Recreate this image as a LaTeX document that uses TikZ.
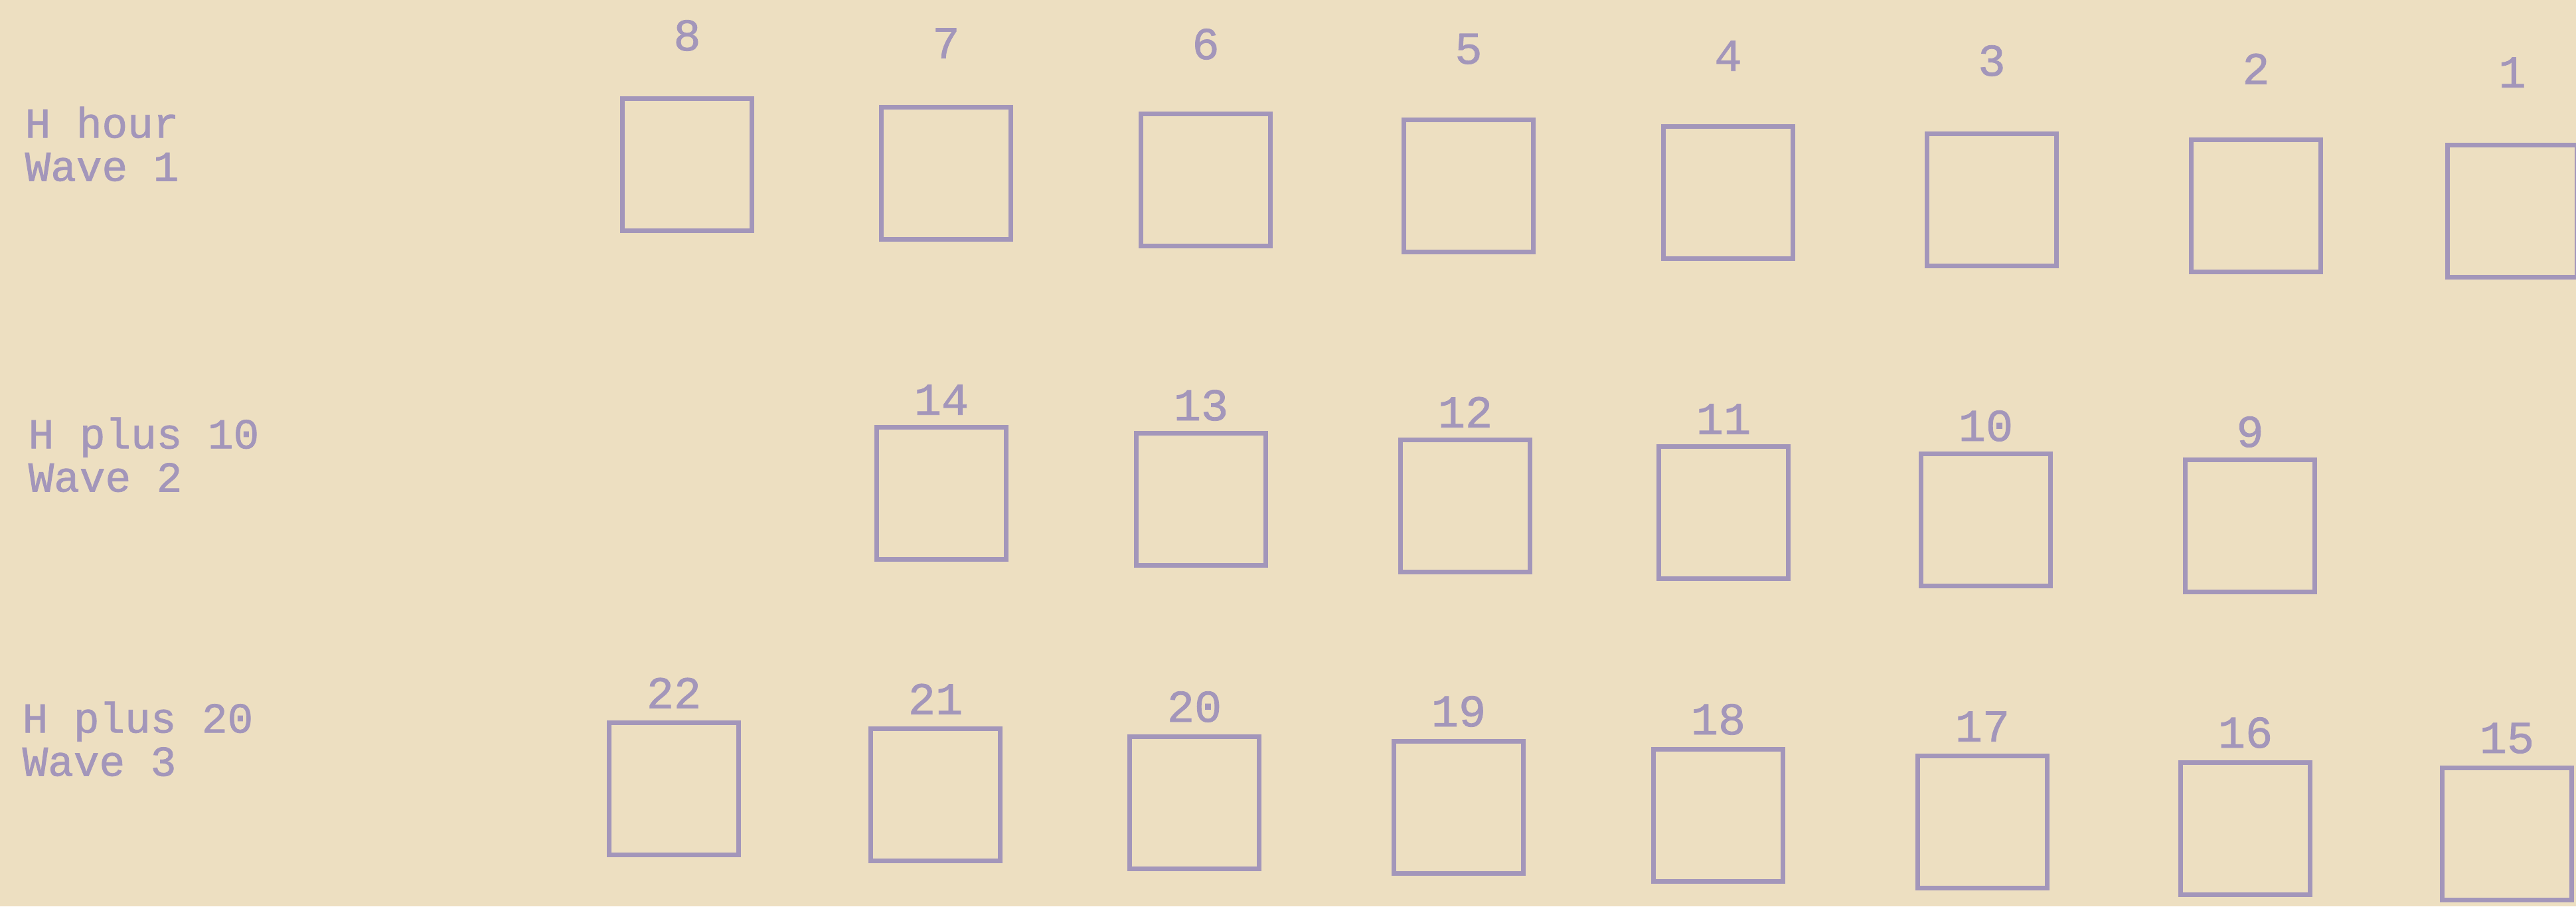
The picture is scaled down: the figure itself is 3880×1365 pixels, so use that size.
\documentclass[tikz,border=0pt]{standalone}
\usepackage{fontspec}
\newfontfamily\typefont[FakeBold=1.2]{Liberation Mono}
\usetikzlibrary{positioning}
\definecolor{paper}{RGB}{237,223,193}
\definecolor{ink}{RGB}{163,150,186}

\begin{document}
\begin{tikzpicture}[
  x=0.01cm, y=-0.01cm,
  font=\typefont\fontsize{18.3pt}{18.5pt}\selectfont,
  slot/.style={draw=ink, line width=2pt, minimum width=1.95cm, minimum height=1.98cm, inner sep=0pt},
  num/.style={text=ink, inner sep=0pt, font=\typefont\fontsize{19.5pt}{20pt}\selectfont},
  wave/.style={text=ink, align=left, inner sep=0pt, anchor=north west}
]
\useasboundingbox (0,0) rectangle (3880,1365);
\fill[paper] (0,0) rectangle (3880,1365);

% row labels
\node[wave] (w1) at (37,160) {H hour\\Wave 1};
\node[wave] (w2) at (42,628) {H plus 10\\Wave 2};
\node[wave] (w3) at (33,1056) {H plus 20\\Wave 3};

% wave 1
\node[slot] (s8) at (1035,248) {};
\node[slot] (s7) at (1425,261) {};
\node[slot] (s6) at (1816,271) {};
\node[slot] (s5) at (2212,280) {};
\node[slot] (s4) at (2603,290) {};
\node[slot] (s3) at (3000,301) {};
\node[slot] (s2) at (3398,310) {};
\node[slot] (s1) at (3784,318) {};

\node[num, above=0.68cm of s8] (n8) {8};
\node[num, above=0.70cm of s7] (n7) {7};
\node[num, above=0.78cm of s6] (n6) {6};
\node[num, above=0.80cm of s5] (n5) {5};
\node[num, above=0.80cm of s4] (n4) {4};
\node[num, above=0.83cm of s3] (n3) {3};
\node[num, above=0.80cm of s2] (n2) {2};
\node[num, above=0.83cm of s1] (n1) {1};

% wave 2
\node[slot] (s14) at (1418,743) {};
\node[slot] (s13) at (1809,752) {};
\node[slot] (s12) at (2207,762) {};
\node[slot] (s11) at (2596,772) {};
\node[slot] (s10) at (2991,783) {};
\node[slot] (s9) at (3389,792) {};

\node[num, above=0.15cm of s14] (n14) {14};
\node[num, above=0.15cm of s13] (n13) {13};
\node[num, above=0.15cm of s12] (n12) {12};
\node[num, above=0.15cm of s11] (n11) {11};
\node[num, above=0.15cm of s10] (n10) {10};
\node[num, above=0.15cm of s9] (n9) {9};

% wave 3
\node[slot] (s22) at (1015,1188) {};
\node[slot] (s21) at (1409,1197) {};
\node[slot] (s20) at (1799,1209) {};
\node[slot] (s19) at (2197,1216) {};
\node[slot] (s18) at (2588,1228) {};
\node[slot] (s17) at (2986,1238) {};
\node[slot] (s16) at (3382,1248) {};
\node[slot] (s15) at (3776,1256) {};

\node[num, above=0.18cm of s22] (n22) {22};
\node[num, above=0.18cm of s21] (n21) {21};
\node[num, above=0.18cm of s20] (n20) {20};
\node[num, above=0.18cm of s19] (n19) {19};
\node[num, above=0.18cm of s18] (n18) {18};
\node[num, above=0.18cm of s17] (n17) {17};
\node[num, above=0.18cm of s16] (n16) {16};
\node[num, above=0.18cm of s15] (n15) {15};

\end{tikzpicture}
\end{document}
